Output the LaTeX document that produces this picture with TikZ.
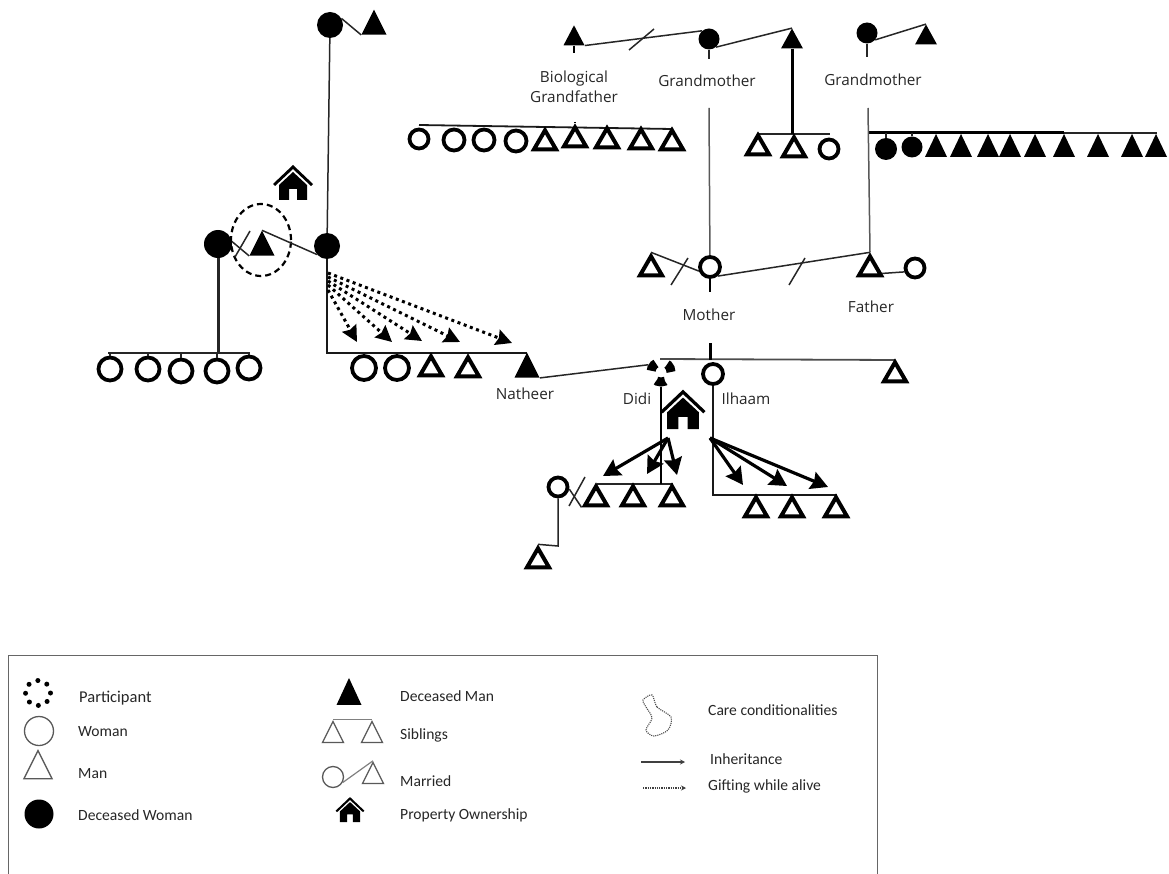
\documentclass[tikz,border=0pt]{standalone}
\usepackage{fontspec}
\setmainfont{Open Sans}
\newfontfamily\legendfont{Carlito}
\usepackage{tikz}
\usetikzlibrary{positioning, shapes.geometric, arrows.meta}

\tikzset{
  house/.pic={
    \fill (-20,1) -- (0,-18) -- (20,1) -- (18,3) -- (0,-14) -- (-18,3) -- cycle;
    \fill (-14,17) -- (-14,2) -- (0,-11) -- (14,2) -- (14,17) -- (4,17) -- (4,6) -- (-4,6) -- (-4,17) -- cycle;
  }
}

\begin{document}
\begin{tikzpicture}[
  x=1pt, y=-1pt,
  >=Stealth,
  every node/.style={font=\fontsize{15.3}{18}\selectfont, text=black!85, inner sep=0pt},
  woman/.style={circle, draw, line width=3.8pt, fill=white, minimum size=23pt},
  deadwoman/.style={circle, fill=black, minimum size=26pt},
  man/.style={isosceles triangle, isosceles triangle apex angle=60, isosceles triangle stretches, shape border rotate=90, draw, line width=4pt, line join=miter, fill=white, minimum width=22pt, minimum height=19pt, yshift=-1pt},
  deadman/.style={isosceles triangle, isosceles triangle apex angle=60, isosceles triangle stretches, shape border rotate=90, fill=black, minimum width=25pt, minimum height=25pt, yshift=-2pt},
  legwoman/.style={circle, draw=black!65, line width=1.3pt, minimum size=#1},
  legman/.style={isosceles triangle, isosceles triangle stretches, shape border rotate=90, draw=black!65, line width=1.3pt, minimum width=#1, minimum height=#1},
  legtext/.style={anchor=west, font=\legendfont\fontsize{15.6}{18}\selectfont, text=black!85},
  rel/.style={line width=1.5pt, black!85},
  kin/.style={line width=1.8pt, black!90},
  inherit/.style={->, line width=3.2pt, >={Stealth[length=17pt, width=18pt, inset=2pt]}},
  gift/.style={->, line width=3pt, dash pattern=on 3pt off 3.6pt, >={Stealth[length=16pt, width=16pt, inset=2pt]}}
]
\useasboundingbox (0,0) rectangle (1169,874);

% Maternal side of the first family
\node[deadwoman] (gmtop) at (330,25) {};
\node[deadman] (gftop) at (374,25) {};
\draw[rel] (gmtop.30) -- (gftop.left corner);
\node[deadwoman] (wifetwo) at (327,246) {};
\node[deadwoman, minimum size=28pt] (wifeone) at (218,244) {};
\node[deadman] (husband) at (262,246) {};
\node[ellipse, draw, dash pattern=on 6pt off 4pt, line width=2.2pt, minimum width=60pt, minimum height=72pt] (carering) at (261,240) {};
\draw[rel] (gmtop) -- (wifetwo);
\draw[rel] (wifeone.10) -- (husband.left corner);
\draw[rel] (husband.apex) -- (wifetwo.220);
\coordinate (cutA) at (250,231);
\coordinate (cutB) at (235,257);
\draw[rel] (cutA) -- (cutB);
\pic at (293,183) {house};

% Children of the first wife
\coordinate (barAl) at (108,353);
\coordinate (barAr) at (250,353);
\coordinate (barAm) at (218,353);
\draw[rel] (barAl) -- (barAr);
\draw[line width=3pt, black!85] (wifeone) -- (barAm);
\foreach \n/\x/\y in {a1/110/369, a2/148/369, a3/181/371, a4/217/371, a5/249/368} {
  \node[woman] (\n) at (\x,\y) {};
  \draw[rel] (\n) -- (\n |- barAl);
}

% Children of the second wife
\coordinate (barBl) at (327,353);
\coordinate (barBr) at (527,353);
\draw[kin] (wifetwo) -- (barBl) -- (barBr);
\node[woman, minimum size=24pt] (b1) at (364,368) {};
\node[woman, minimum size=24pt] (b2) at (397,368) {};
\node[man] (b3) at (431,368) {};
\node[man] (b4) at (468,369) {};
\node[deadman] (natheer) at (527,368) {};
\node (natheerlabel) at (525,394) {Natheer};

% Gifts
\foreach \n/\x/\y/\s in {g1/357/342/290, g2/392/342/285, g3/422/341/281, g4/460/342/277, g5/512/343/273} {
  \coordinate (\n) at (\x,\y);
  \coordinate (\n s) at (328,\s);
  \draw[gift] (\n s) -- (\n);
}

% Biological grandfather and grandmother
\node[deadman, minimum width=21pt, minimum height=20pt] (biogf) at (574,37) {};
\node[circle, fill=black, minimum width=21pt, minimum height=21pt] (gmleft) at (709,39) {};
\node[deadman, minimum width=22pt, minimum height=20pt] (stepgf) at (792,40) {};
\coordinate (biotail) at (574,53);
\coordinate (gmtail) at (709,59);
\draw[line width=2.4pt] (biogf) -- (biotail);
\draw[rel] (gmleft) -- (gmtail);
\draw[rel] (biogf.right corner) -- (gmleft.130);
\draw[rel] (gmleft.-50) -- (stepgf.apex);
\coordinate (cutC) at (654,29);
\coordinate (cutD) at (629,50);
\draw[rel] (cutC) -- (cutD);
\node[align=center] (biolabel) at (574,87) {Biological\\[2pt]Grandfather};
\node (gmleftlabel) at (707,81) {Grandmother};

% Half siblings under the biological grandfather
\coordinate (barCl) at (419,125);
\coordinate (barCr) at (672,129);
\coordinate (barCt) at (575,122);
\draw[kin] (barCl) -- (barCr);
\node[woman, minimum size=19pt] (c1) at (419,139) {};
\foreach \n/\x/\y in {c2/454/140, c3/484/140, c4/516/141}
  \node[woman, minimum size=21pt] (\n) at (\x,\y) {};
\foreach \n/\x/\y in {c5/545/142, c6/575/139, c7/607/140, c8/641/141, c9/672/142}
  \node[man] (\n) at (\x,\y) {};
\draw[line width=2pt] (barCt) -- (c6.apex);

% Children of the step grandfather
\coordinate (barDl) at (757,134);
\coordinate (barDr) at (830,134);
\coordinate (barDm) at (792,134);
\draw[rel] (barDl) -- (barDr);
\draw[line width=3pt] (stepgf) -- (barDm);
\node[man] (d1) at (758,147) {};
\node[man] (d2) at (794,149) {};
\node[woman, minimum size=19pt] (d3) at (829,149) {};

% Paternal grandmother and her children
\node[circle, fill=black, minimum size=21pt] (gmright) at (867,33) {};
\node[deadman, minimum width=22pt, minimum height=20pt] (gfright) at (926,36) {};
\coordinate (gmrtail) at (867,57);
\draw[rel] (gmright) -- (gmrtail);
\draw[rel] (gmright.-40) -- (gfright.apex);
\node (gmrightlabel) at (873,80) {Grandmother};
\coordinate (barEl) at (868,133);
\coordinate (barEm) at (1064,133);
\coordinate (barEr) at (1157,133);
\draw[line width=3pt] (barEl) -- (barEm);
\draw[rel] (barEm) -- (barEr);
\node[deadwoman, minimum size=22pt] (e1) at (886,149) {};
\node[deadwoman, minimum size=21pt] (e2) at (912,147) {};
\draw[rel] (e1) -- (e1 |- barEl);
\draw[rel] (e2) -- (e2 |- barEl);
\foreach \n/\x in {e3/936, e4/961, e5/988, e6/1010, e7/1035, e8/1064, e9/1098, e10/1132, e11/1156}
  \node[deadman, minimum width=22pt, minimum height=23pt] (\n) at (\x,148) {};

% Mother and father
\node[man] (exhusb) at (651,268) {};
\node[woman, minimum size=20pt] (mother) at (710,267) {};
\node[man] (father) at (870,268) {};
\node[woman, minimum size=19pt] (stepmum) at (915,268) {};
\coordinate (gmlinetop) at (709,108);
\coordinate (gmrlinetop) at (868,108);
\coordinate (mothertail) at (710,292);
\draw[rel, black!65] (gmlinetop) -- (mother);
\draw[rel, black!65] (gmrlinetop) -- (father.apex);
\draw[rel] (exhusb.apex) -- (mother.200);
\draw[rel] (mother.-50) -- (father.apex);
\draw[rel] (father.-20) -- (stepmum.200);
\draw[line width=2.4pt] (mother) -- (mothertail);
\coordinate (cutE) at (688,258);
\coordinate (cutF) at (671,285);
\draw[rel] (cutE) -- (cutF);
\coordinate (cutG) at (805,258);
\coordinate (cutH) at (789,285);
\draw[rel] (cutG) -- (cutH);
\node (motherlabel) at (709,315) {Mother};
\node (fatherlabel) at (871,307) {Father};

% Siblings: Didi, Ilhaam and brother
\coordinate (barFl) at (660,359);
\coordinate (barFr) at (895,360);
\coordinate (barFt) at (710,343);
\coordinate (barFm) at (710,360);
\draw[rel, black!70, line width=1.8pt] (barFl) -- (barFr);
\draw[line width=3pt] (barFt) -- (barFm);
\node[circle, draw, line width=9pt, dash pattern=on 9pt off 11.94pt, minimum size=20pt] (didi) at (661,372) {};
\node[woman, minimum size=20pt] (ilhaam) at (713,374) {};
\node[man] (brother) at (895,374) {};
\draw[rel] (natheer.right corner) -- (didi.150);
\node (didilabel) at (637,399) {Didi};
\node (ilhaamlabel) at (746,399) {Ilhaam};
\pic[scale=1.13] at (683,410) {house};

% Didi's sons
\coordinate (barGr) at (673,484);
\coordinate (barGl) at (597,484);
\coordinate (barGm) at (661,484);
\draw[rel] (barGl) -- (barGr);
\draw[line width=2.6pt] (didi) -- (barGm);
\node[man] (s1) at (596,498) {};
\node[man] (s2) at (633,498) {};
\node[man] (s3) at (672,498) {};
\node[woman, minimum size=19pt] (exwife) at (558,487) {};
\draw[rel] (exwife.-10) -- (s1.left corner);
\coordinate (cutI) at (585,477);
\coordinate (cutJ) at (569,506);
\draw[rel] (cutI) -- (cutJ);
\coordinate (elbow) at (558,546);
\node[man] (grandson) at (538,560) {};
\draw[rel] (exwife) -- (elbow) -- (grandson.apex);

% Ilhaam's sons
\coordinate (barHl) at (713,495);
\coordinate (barHr) at (837,495);
\draw[kin] (ilhaam) -- (barHl) -- (barHr);
\node[man] (t1) at (756,509) {};
\node[man] (t2) at (792,509) {};
\node[man] (t3) at (836,509) {};

% Inheritance
\coordinate (didifrom) at (668,438);
\coordinate (ilhaamfrom) at (710,438);
\foreach \n/\x/\y in {h1/603/476, h2/647/474, h3/677/475} {
  \coordinate (\n) at (\x,\y);
  \draw[inherit] (didifrom) -- (\n);
}
\foreach \n/\x/\y in {i1/743/485, i2/787/486, i3/828/487} {
  \coordinate (\n) at (\x,\y);
  \draw[inherit] (ilhaamfrom) -- (\n);
}

% Legend
\coordinate (legA) at (8,874);
\coordinate (legB) at (8,655);
\coordinate (legC) at (877,655);
\coordinate (legD) at (877,874);
\draw[black!60, line width=0.9pt] (legA) -- (legB) -- (legC) -- (legD);

\node[circle, draw, line width=5pt, line cap=round, dash pattern=on 0pt off 9.82pt, minimum size=25pt] (kparticipant) at (38,693) {};
\node[legtext, font=\legendfont\fontsize{16.5}{18}\selectfont] (tparticipant) at (79,698) {Participant};
\node[legwoman=29pt] (kwoman) at (39,731) {};
\node[legtext] (twoman) at (78,732) {Woman};
\node[legman=28pt] (kman) at (38,770) {};
\node[legtext] (tman) at (78,774) {Man};
\node[deadwoman, minimum size=29pt] (kdeadw) at (39,814) {};
\node[legtext] (tdeadw) at (78,815) {Deceased Woman};

\node[deadman, minimum width=25pt, minimum height=27pt] (kdeadm) at (349,695) {};
\node[legtext] (tdeadm) at (400,696) {Deceased Man};
\node[legman=21pt] (ksibA) at (333,736) {};
\node[legman=21pt] (ksibB) at (372,736) {};
\draw[black!50, line width=1.2pt] (ksibA.apex) -- (ksibB.apex);
\node[legtext] (tsib) at (400,735) {Siblings};
\node[legwoman=21pt] (kmarA) at (333,777) {};
\node[legman=21pt] (kmarB) at (373,777) {};
\draw[black!50, line width=1.2pt] (kmarA.-30) -- (kmarB.apex);
\node[legtext] (tmar) at (400,781) {Married};
\pic[scale=.72] at (350,810) {house};
\node[legtext] (tprop) at (400,815) {Property Ownership};

\draw[black!70, densely dotted, line width=1.1pt] plot[smooth cycle] coordinates {(652,695) (657,707) (671,717) (668,730) (654,736) (646,730) (652,718) (646,707) (643,700)};
\node[legtext] (tcare) at (708,710) {Care conditionalities};
\coordinate (kinhA) at (641,762);
\coordinate (kinhB) at (685,762);
\draw[->, line width=1.6pt, black!75, >={Stealth[length=5pt, width=5pt]}] (kinhA) -- (kinhB);
\node[legtext] (tinh) at (710,759) {Inheritance};
\coordinate (kgifA) at (643,788);
\coordinate (kgifB) at (686,788);
\draw[->, line width=1.3pt, densely dotted, black!75, >={Stealth[length=5pt, width=5pt]}] (kgifA) -- (kgifB);
\node[legtext] (tgif) at (708,786) {Gifting while alive};
\end{tikzpicture}
\end{document}
